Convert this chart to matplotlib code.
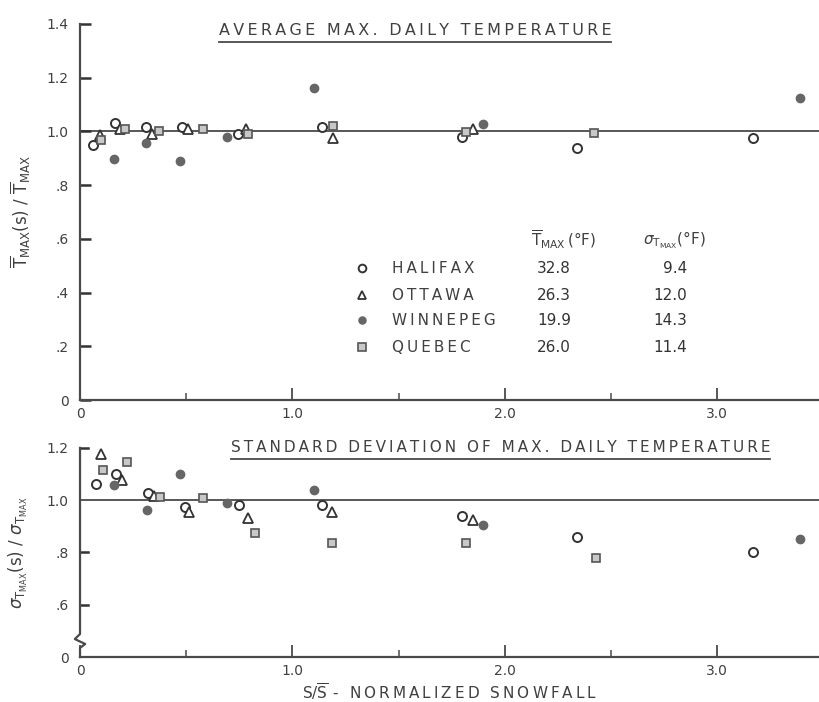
import matplotlib
matplotlib.use("Agg")
import matplotlib.pyplot as plt
from matplotlib.lines import Line2D
from matplotlib.transforms import blended_transform_factory

# normalized snowfall (x) and ratios
halifax_x_top = [0.06, 0.165, 0.31, 0.48, 0.745, 1.14, 1.80, 2.34, 3.17]
halifax_y_top = [0.948, 1.03, 1.015, 1.015, 0.99, 1.015, 0.98, 0.937, 0.975]
ottawa_x_top = [0.094, 0.19, 0.34, 0.51, 0.78, 1.19, 1.85]
ottawa_y_top = [0.985, 1.01, 0.99, 1.01, 1.01, 0.975, 1.007]
winnipeg_x_top = [0.16, 0.31, 0.47, 0.69, 1.10, 1.90, 3.39]
winnipeg_y_top = [0.896, 0.955, 0.89, 0.98, 1.16, 1.026, 1.126]
quebec_x_top = [0.10, 0.21, 0.37, 0.58, 0.79, 1.19, 1.82, 2.42]
quebec_y_top = [0.967, 1.01, 1.0, 1.01, 0.99, 1.02, 0.996, 0.993]

halifax_x_bot = [0.075, 0.17, 0.32, 0.495, 0.75, 1.14, 1.80, 2.34, 3.17]
halifax_y_bot = [1.06, 1.10, 1.027, 0.974, 0.98, 0.98, 0.94, 0.858, 0.80]
ottawa_x_bot = [0.10, 0.20, 0.35, 0.515, 0.79, 1.185, 1.85]
ottawa_y_bot = [1.177, 1.077, 1.015, 0.954, 0.93, 0.954, 0.926]
winnipeg_x_bot = [0.16, 0.316, 0.47, 0.69, 1.10, 1.90, 3.39]
winnipeg_y_bot = [1.058, 0.962, 1.10, 0.988, 1.038, 0.904, 0.85]
quebec_x_bot = [0.11, 0.22, 0.377, 0.58, 0.825, 1.185, 1.82, 2.43]
quebec_y_bot = [1.115, 1.146, 1.012, 1.008, 0.873, 0.838, 0.838, 0.78]

cities = ["HALIFAX", "OTTAWA", "WINNEPEG", "QUEBEC"]
tmax_mean = ["32.8", "26.3", "19.9", "26.0"]
tmax_std = ["9.4", "12.0", "14.3", "11.4"]

top_yticks = [0, 0.2, 0.4, 0.6, 0.8, 1.0, 1.2, 1.4]
top_yticklabels = ["0", ".2", ".4", ".6", ".8", "1.0", "1.2", "1.4"]
bot_yticks = [0.4, 0.6, 0.8, 1.0, 1.2]
bot_yticklabels = ["0", ".6", ".8", "1.0", "1.2"]
xticks = [0, 1, 2, 3]
xticklabels = ["0", "1.0", "2.0", "3.0"]
xminor = [0.5, 1.5, 2.5]

INK = "#4a4a4a"
TXT = "#404040"

plt.rcParams["font.family"] = ["DejaVu Sans"]
plt.rcParams["mathtext.fontset"] = "dejavusans"


def spaced(s):
    # the original lettering is widely spaced
    return "\u2009".join(s)


def city_styles():
    return [
        dict(marker="o", ms=6.5, mfc="white", mec="#333333", mew=1.4, ls="none"),
        dict(marker="^", ms=7, mfc="white", mec="#333333", mew=1.3, ls="none"),
        dict(marker="o", ms=6, mfc="#666666", mec="#666666", ls="none"),
        dict(marker="s", ms=6, mfc="#c8c8c8", mec="#555555", mew=1.2, ls="none"),
    ]


def base_axes(ax):
    ax.spines["top"].set_visible(False)
    ax.spines["right"].set_visible(False)
    for sp in ("left", "bottom"):
        ax.spines[sp].set_color(INK)
        ax.spines[sp].set_linewidth(1.6)
    ax.set_xlim(0, 3.48)
    ax.set_xticks(xticks)
    ax.set_xticklabels(xticklabels)
    ax.set_xticks(xminor, minor=True)
    ax.tick_params(axis="x", which="major", direction="in", length=9, width=1.3,
                   color=INK, labelsize=10, labelcolor=TXT, pad=5)
    ax.tick_params(axis="x", which="minor", direction="in", length=5, width=1.1, color=INK)
    ax.tick_params(axis="y", which="major", direction="in", length=8, width=1.8,
                   color="#333333", labelsize=10, labelcolor=TXT, pad=8)
    ax.axhline(1.0, color=INK, lw=1.3, zorder=1)


def underline(fig, txt, gap=4):
    fig.canvas.draw()
    bb = txt.get_window_extent()
    inv = fig.transFigure.inverted()
    (x0, y0), (x1, _) = inv.transform([(bb.x0, bb.y0 - gap), (bb.x1, bb.y0 - gap)])
    fig.add_artist(Line2D([x0, x1], [y0, y0], color=INK, lw=1.3))


fig = plt.figure(figsize=(8.19, 7.02), dpi=100)
ax1 = fig.add_axes([0.0977, 0.430, 0.9023, 0.536])
ax2 = fig.add_axes([0.0977, 0.064, 0.9023, 0.298])

styles = city_styles()

# top panel: average max daily temperature
base_axes(ax1)
ax1.set_ylim(0, 1.4)
ax1.set_yticks(top_yticks)
ax1.set_yticklabels(top_yticklabels)
top_sets = [(halifax_x_top, halifax_y_top), (ottawa_x_top, ottawa_y_top),
            (winnipeg_x_top, winnipeg_y_top), (quebec_x_top, quebec_y_top)]
for (xs, ys), st in zip(top_sets, styles):
    ax1.plot(xs, ys, zorder=3, clip_on=False, **st)
ax1.set_ylabel(r"$\overline{\mathrm{T}}_{\mathrm{MAX}}\mathrm{(s)}\ /\ \overline{\mathrm{T}}_{\mathrm{MAX}}$",
               fontsize=12, color=TXT, labelpad=10)
t1 = ax1.text(1.578, 1.375, spaced("AVERAGE MAX. DAILY TEMPERATURE"), ha="center", va="center",
              fontsize=11.5, color=TXT)

# legend table
ax1.text(2.275, 0.596, r"$\overline{\mathrm{T}}_{\mathrm{MAX}}\,\mathrm{(°F)}$", ha="center",
         va="center", fontsize=11, color=TXT)
ax1.text(2.80, 0.596, r"$\sigma_{\mathrm{T}_{\mathrm{MAX}}}\mathrm{(°F)}$", ha="center",
         va="center", fontsize=11, color=TXT)
row_y = [0.491, 0.391, 0.298, 0.197]
for i, st in enumerate(styles):
    lst = dict(st)
    lst["ms"] = st["ms"] * 0.85
    ax1.plot([1.328], [row_y[i]], **lst)
    ax1.text(1.469, row_y[i], spaced(cities[i]), ha="left", va="center", fontsize=11, color=TXT)
    ax1.text(2.153, row_y[i], tmax_mean[i], ha="left", va="center", fontsize=11, color="#333333")
    ax1.text(2.86, row_y[i], tmax_std[i], ha="right", va="center", fontsize=11, color="#333333")

# bottom panel: standard deviation of max daily temperature
base_axes(ax2)
ax2.set_ylim(0.4, 1.2)
ax2.set_yticks(bot_yticks)
ax2.set_yticklabels(bot_yticklabels)
ax2.tick_params(axis="y", which="major", length=0)
ax2.spines["left"].set_visible(False)
bt = blended_transform_factory(ax2.transAxes, ax2.transData)
# broken left axis with zigzag
ax2.plot([0, 0, -0.007, 0.007, 0, 0], [1.2, 0.488, 0.469, 0.45, 0.435, 0.4],
         transform=bt, color=INK, lw=1.6, clip_on=False, zorder=4)
for yv in [0.6, 0.8, 1.2]:
    ax2.plot([0, 0.011], [yv, yv], transform=bt, color="#333333", lw=1.8, clip_on=False)
bot_sets = [(halifax_x_bot, halifax_y_bot), (ottawa_x_bot, ottawa_y_bot),
            (winnipeg_x_bot, winnipeg_y_bot), (quebec_x_bot, quebec_y_bot)]
for (xs, ys), st in zip(bot_sets, styles):
    ax2.plot(xs, ys, zorder=3, clip_on=False, **st)
ax2.set_ylabel(r"$\sigma_{\mathrm{T}_{\mathrm{MAX}}}\mathrm{(s)}\ /\ \sigma_{\mathrm{T}_{\mathrm{MAX}}}$",
               fontsize=12, color=TXT, labelpad=12)
t2 = ax2.text(1.98, 1.2, spaced("STANDARD DEVIATION OF MAX. DAILY TEMPERATURE"), ha="center",
              va="center", fontsize=11, color=TXT)
ax2.set_xlabel(r"S/$\overline{\mathrm{S}}$" + "\u2009\u2009" + spaced("- NORMALIZED SNOWFALL"),
               fontsize=11, color=TXT)
ax2.xaxis.set_label_coords(1.74 / 3.48, -0.115)

underline(fig, t1)
underline(fig, t2)

fig.savefig("out.png", dpi=100, facecolor="white")
